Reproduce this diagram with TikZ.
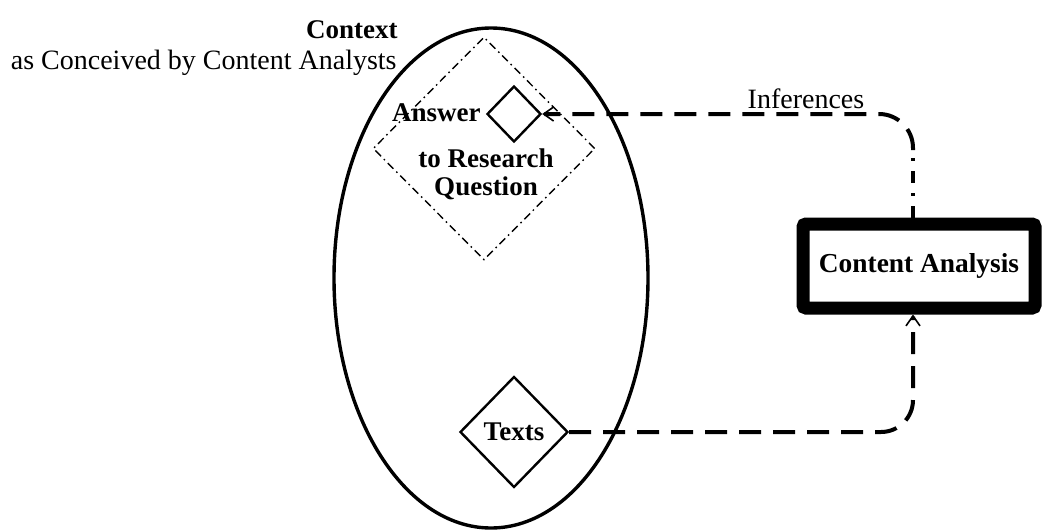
\documentclass[tikz,border=0pt]{standalone}
\usepackage{fontspec}
\setmainfont{Liberation Serif}
\usetikzlibrary{shapes.geometric,arrows.meta}
\tikzset{
  lbl/.style={inner sep=0pt, font=\fontsize{14}{14}\selectfont},
  blbl/.style={inner sep=0pt, font=\fontsize{13.5}{14}\selectfont\bfseries},
  dia/.style={diamond, draw, line width=1.2pt, inner sep=0pt},
  conn/.style={line width=2pt, dash pattern=on 11pt off 6pt},
  tip/.style={-{Straight Barb[length=5pt,width=7pt,line width=0.8pt]}},
}
\begin{document}
\begin{tikzpicture}[x=0.5pt,y=-0.5pt]
\useasboundingbox (0,0) rectangle (1044,530);
% context ellipse
\node[ellipse, draw, line width=1.7pt, minimum width=157pt, minimum height=250pt, inner sep=0pt] (ctx) at (491,278) {};
\node[blbl, anchor=east] (ctxt) at (398,30) {Context};
\node[lbl, anchor=east] (ctxs) at (397,63) {as Conceived by Content Analysts};
% research question region
\node[diamond, draw, line width=0.7pt, dash pattern=on 4pt off 2pt on 0.8pt off 2pt, minimum width=111pt, minimum height=111.5pt, inner sep=0pt] (rq) at (484,148.5) {};
\node[dia, minimum width=27pt, minimum height=28pt] (ans) at (514,114) {};
\node[blbl, anchor=east] (anst) at (481,113) {Answer};
\node[blbl, align=center] (rqt) at (486,174) {to Research\\Question};
% texts
\node[dia, minimum width=54pt, minimum height=55.5pt, font=\fontsize{13.5}{14}\selectfont\bfseries] (texts) at (514,432) {Texts};
% content analysis box
\node[draw, line width=6.5pt, rounded corners=1.5pt, minimum width=116pt, minimum height=42pt, inner sep=0pt, font=\fontsize{13.7}{14}\selectfont\bfseries] (ca) at (919,266) {Content Analysis};
% connectors
\coordinate (vx) at (913,0);
\coordinate (topv) at (913,150);
\draw[line width=2pt, dash pattern=on 6pt off 5pt on 1.5pt off 5pt] (ca.north -| vx) -- (topv);
\draw[conn, tip, rounded corners=17pt] (topv) |- (ans.east);
\node[lbl] (inf) at (806,99) {Inferences};
\draw[conn, tip, rounded corners=16pt] (texts.east) -| (ca.south -| vx);
\end{tikzpicture}
\end{document}
